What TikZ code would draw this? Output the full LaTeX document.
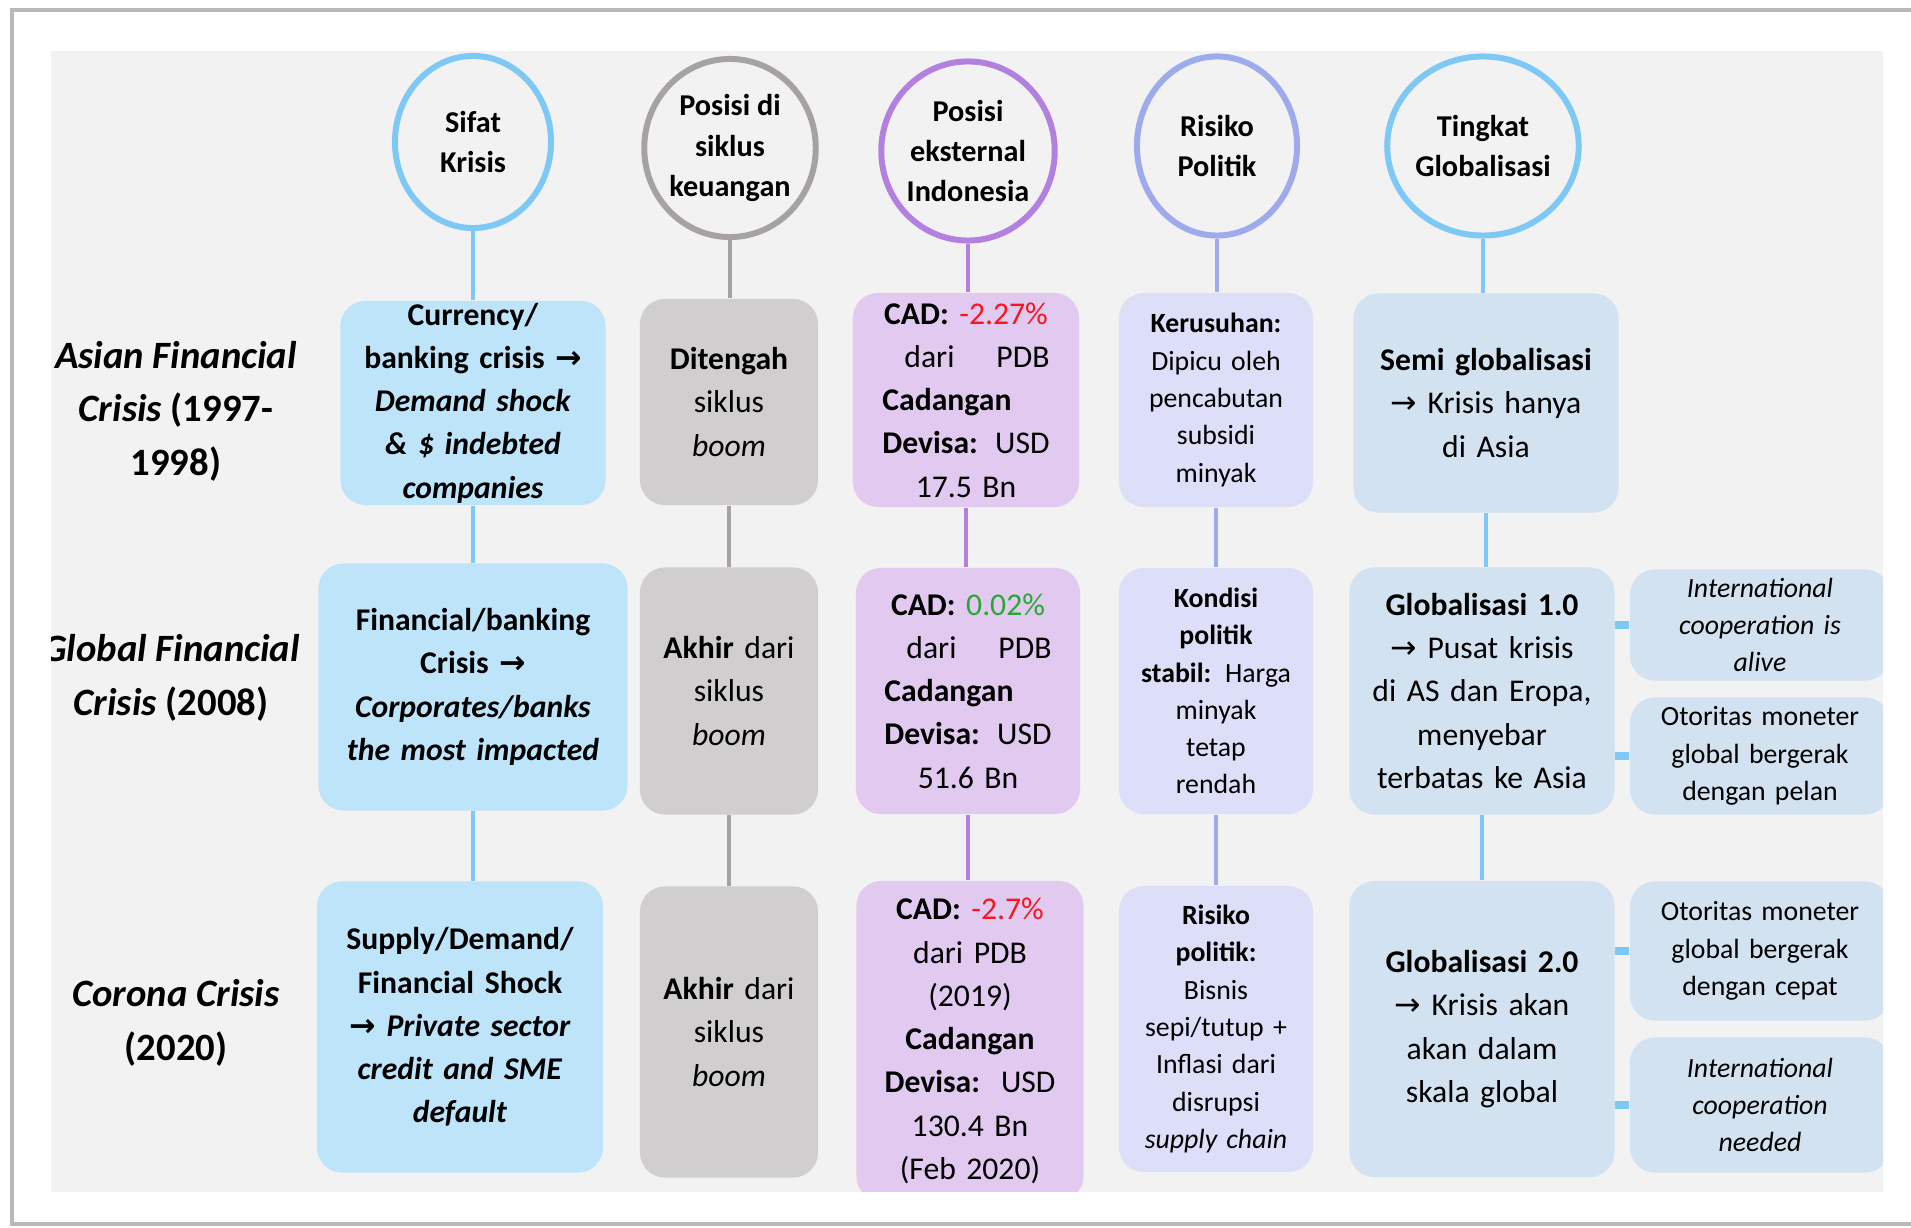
\documentclass[tikz,border=0pt]{standalone}
\usepackage{fontspec}
\setmainfont{Carlito}
\newfontfamily\symfont{DejaVu Sans}
\usepackage{xcolor}
\usetikzlibrary{shapes.geometric}
\definecolor{skyline}{RGB}{125,200,245}
\definecolor{skyfill}{RGB}{190,228,250}
\definecolor{greyline}{RGB}{166,162,162}
\definecolor{greyfill}{RGB}{208,206,206}
\definecolor{purpline}{RGB}{178,128,222}
\definecolor{purpfill}{RGB}{226,201,240}
\definecolor{periline}{RGB}{157,170,236}
\definecolor{perifill}{RGB}{221,222,247}
\definecolor{globfill}{RGB}{211,226,240}
\definecolor{panelbg}{RGB}{242,242,242}
\definecolor{cadred}{RGB}{250,20,30}
\definecolor{cadgreen}{RGB}{40,168,50}
\newcommand{\rarr}{{\symfont\symbol{"2192}}}

\begin{document}
\begin{tikzpicture}[x=0.01cm, y=-0.01cm,
    head/.style={ellipse, draw, line width=1.7pt, align=center, inner sep=0pt,
        font=\fontsize{8.6}{11.4}\selectfont\bfseries},
    box/.style={rounded corners=0.25cm, align=center, inner sep=0pt,
        font=\fontsize{9}{12.3}\selectfont},
    sifat/.style={box, fill=skyfill, font=\fontsize{9}{12.3}\selectfont\bfseries},
    siklus/.style={box, fill=greyfill, minimum width=1.78cm, text width=1.6cm},
    ekstern/.style={box, fill=purpfill, text width=1.67cm},
    politik/.style={box, fill=perifill, minimum width=1.94cm, text width=1.8cm,
        font=\fontsize{7.9}{10.6}\selectfont},
    global/.style={box, fill=globfill, minimum width=2.65cm, text width=2.5cm},
    note/.style={box, fill=globfill, minimum width=2.6cm, text width=2.4cm,
        font=\fontsize{7.9}{10.6}\selectfont},
    crisis/.style={align=center, font=\fontsize{11}{15.2}\selectfont\bfseries},
    link/.style={line width=1.4pt}]
    \useasboundingbox (0,0) rectangle (1911,1228);
    \clip (0,0) rectangle (1911,1228);
    % --- Page and panel ---
    \fill[white] (0,0) rectangle (1911,1228);
    \draw[gray!55, line width=1.2pt] (12,10) rectangle (1950,1224);
    \fill[panelbg] (51,51) rectangle (1883,1192);
    \begin{scope}
        \clip (51,51) rectangle (1883,1192);
        % Headers
        \node[head, skyline, text=black, minimum width=1.56cm, minimum height=1.72cm] (h1) at (473,142) {Sifat\\Krisis};
        \node[head, greyline, text=black, minimum width=1.59cm, minimum height=1.78cm] (h2) at (730,148) {Posisi di\\siklus\\keuangan};
        \node[head, purpline, text=black, minimum width=1.60cm, minimum height=1.79cm] (h3) at (968,151) {Posisi\\eksternal\\Indonesia};
        \node[head, periline, text=black, minimum width=1.60cm, minimum height=1.79cm] (h4) at (1217,146) {Risiko\\Politik};
        \node[head, skyline, text=black, minimum width=1.83cm, minimum height=1.79cm] (h5) at (1483,146) {Tingkat\\Globalisasi};
        % Row labels
        \node[crisis] (r1) at (176,411) {\textit{Asian Financial}\\\textit{Crisis} (1997-\\1998)};
        \node[crisis] (r2) at (171,678) {\textit{Global Financial}\\\textit{Crisis} (2008)};
        \node[crisis] (r3) at (176,1023) {\textit{Corona Crisis}\\(2020)};
        % Sifat krisis
        \node[sifat, minimum width=2.65cm, minimum height=2.04cm, text width=2.5cm] (s1) at (473,403)
            {Currency/\\banking crisis \rarr\\\textit{Demand shock}\\\textit{\& \$ indebted}\\\textit{companies}};
        \node[sifat, minimum width=3.09cm, minimum height=2.47cm, text width=2.9cm] (s2) at (473,687)
            {Financial/banking\\Crisis \rarr\\\textit{Corporates/banks}\\\textit{the most impacted}};
        \node[sifat, minimum width=2.86cm, minimum height=2.91cm, text width=2.7cm] (s3) at (460,1027)
            {Supply/Demand/\\Financial Shock\\\rarr\ \textit{Private sector}\\\textit{credit and SME}\\\textit{default}};
        % Siklus keuangan
        \node[siklus, minimum height=2.06cm] (p1) at (729,402) {\textbf{Ditengah}\\siklus\\\textit{boom}};
        \node[siklus, minimum height=2.47cm] (p2) at (729,691) {\textbf{Akhir} dari\\siklus\\\textit{boom}};
        \node[siklus, minimum height=2.91cm] (p3) at (729,1032) {\textbf{Akhir} dari\\siklus\\\textit{boom}};
        % Posisi eksternal
        \node[ekstern, minimum width=2.26cm, minimum height=2.14cm] (e1) at (966,400)
            {\textbf{CAD:} \textcolor{cadred}{-2.27\%}\\\hspace*{0.22cm}dari\hfill PDB\\\textbf{Cadangan}\hfill\mbox{}\\\textbf{Devisa:}\hfill USD\\17.5 Bn};
        \node[ekstern, minimum width=2.24cm, minimum height=2.46cm] (e2) at (968,691)
            {\textbf{CAD:} \textcolor{cadgreen}{0.02\%}\\\hspace*{0.22cm}dari\hfill PDB\\\textbf{Cadangan}\hfill\mbox{}\\\textbf{Devisa:}\hfill USD\\51.6 Bn};
        \node[ekstern, text width=2.1cm, minimum width=2.27cm, minimum height=3.20cm] (e3) at (970,1041)
            {\textbf{CAD:} \textcolor{cadred}{-2.7\%}\\dari PDB\\(2019)\\\textbf{Cadangan}\\\textbf{Devisa:}\ \ USD\\130.4 Bn\\(Feb 2020)};
        % Risiko politik
        \node[politik, minimum height=2.14cm] (k1) at (1216,400)
            {\textbf{Kerusuhan:}\\Dipicu oleh\\pencabutan\\subsidi\\minyak};
        \node[politik, minimum height=2.46cm] (k2) at (1216,691)
            {\textbf{Kondisi}\\\textbf{politik}\\\textbf{stabil:} Harga\\minyak\\tetap\\rendah};
        \node[politik, minimum height=2.86cm] (k3) at (1216,1029)
            {\textbf{Risiko}\\\textbf{politik:}\\Bisnis\\sepi/tutup +\\Inflasi dari\\disrupsi\\\textit{supply chain}};
        % Tingkat globalisasi
        \node[global, minimum height=2.19cm] (g1) at (1486,403)
            {\textbf{Semi globalisasi}\\\rarr\ Krisis hanya\\di Asia};
        \node[global, minimum height=2.47cm] (g2) at (1482,691)
            {\textbf{Globalisasi 1.0}\\\rarr\ Pusat krisis\\di AS dan Eropa,\\menyebar\\terbatas ke Asia};
        \node[global, minimum height=2.96cm] (g3) at (1482,1029)
            {\textbf{Globalisasi 2.0}\\\rarr\ Krisis akan\\akan dalam\\skala global};
        % Side notes
        \node[note, minimum height=1.11cm] (n1) at (1760,625) {\textit{International}\\\textit{cooperation is}\\\textit{alive}};
        \node[note, minimum height=1.17cm] (n2) at (1760,756) {Otoritas moneter\\global bergerak\\dengan pelan};
        \node[note, minimum height=1.39cm] (n3) at (1760,951) {Otoritas moneter\\global bergerak\\dengan cepat};
        \node[note, minimum height=1.35cm] (n4) at (1760,1105) {\textit{International}\\\textit{cooperation}\\\textit{needed}};
    \end{scope}
    % Connectors
    \foreach \a/\b in {h1/s1, s1/s2, s2/s3}
        \draw[link, skyline] (\a.south) -- (\a.south |- \b.north);
    \foreach \a/\b in {h2/p1, p1/p2, p2/p3}
        \draw[link, greyline] (\a.south) -- (\a.south |- \b.north);
    \foreach \a/\b in {h3/e1, e1/e2, e2/e3}
        \draw[link, purpline] (\a.south) -- (\a.south |- \b.north);
    \foreach \a/\b in {h4/k1, k1/k2, k2/k3}
        \draw[link, periline] (\a.south) -- (\a.south |- \b.north);
    \foreach \a/\b in {h5/g1, g1/g2, g2/g3}
        \draw[link, skyline] (\a.south) -- (\a.south |- \b.north);
    \foreach \n/\g in {n1/g2, n2/g2, n3/g3, n4/g3}
        \draw[link, skyline, line width=2pt] (\n.west) -- (\n.west -| \g.east);
\end{tikzpicture}
\end{document}
